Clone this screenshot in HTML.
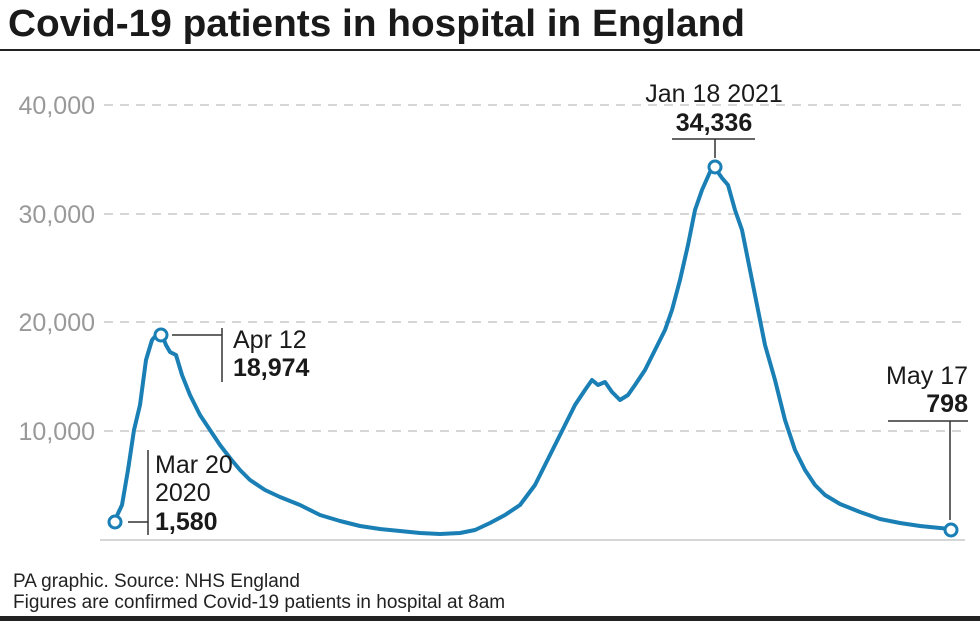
<!DOCTYPE html>
<html><head><meta charset="utf-8"><style>
html,body{margin:0;padding:0;background:#fff;}
body{width:980px;height:621px;overflow:hidden;font-family:"Liberation Sans",Arial,sans-serif;}
</style></head><body>
<svg width="980" height="621" viewBox="0 0 980 621" xmlns="http://www.w3.org/2000/svg" font-family="Liberation Sans, Arial, sans-serif">
<text x="8" y="36" font-size="38" font-weight="bold" fill="#1a1a1a" textLength="737" lengthAdjust="spacingAndGlyphs">Covid-19 patients in hospital in England</text>
<line x1="0" y1="50" x2="980" y2="50" stroke="#222" stroke-width="2"/>
<g stroke="#c8c8c8" stroke-width="1.5" stroke-dasharray="9,7">
<line x1="104" y1="105" x2="965" y2="105"/>
<line x1="104" y1="214" x2="965" y2="214"/>
<line x1="104" y1="322" x2="965" y2="322"/>
<line x1="104" y1="431" x2="965" y2="431"/>
</g>
<line x1="100" y1="540" x2="965" y2="540" stroke="#c8c8c8" stroke-width="1.5"/>
<g font-size="25" fill="#999" text-anchor="end">
<text x="95" y="114">40,000</text>
<text x="95" y="223">30,000</text>
<text x="95" y="331">20,000</text>
<text x="95" y="440">10,000</text>
</g>
<polyline fill="none" stroke="#1a7fb5" stroke-width="4" stroke-linejoin="round" points="114,522 122,505 128,470 134,430 140,405 146,360 152,340 158,333 162,335 166,345 170,352 176,355 182,375 190,395 200,415 210,430 220,445 230,458 240,470 250,480 265,490 280,497 300,505 320,515 340,521 360,526 380,529 400,531 420,533 440,534 460,533 475,530 490,523 505,515 520,505 535,485 545,465 555,445 565,425 575,405 585,390 592,380 598,385 605,382 612,392 620,400 628,395 635,385 645,370 655,350 665,330 672,310 680,280 688,245 695,210 702,190 710,172 715,168 722,178 728,185 735,210 742,230 750,270 758,310 765,345 775,380 785,420 795,450 805,470 815,485 825,495 840,504 860,512 880,519 900,523 920,526 950,529"/>
<g stroke="#333" stroke-width="1.5" fill="none">
<polyline points="128,522 148,522"/><line x1="148" y1="450" x2="148" y2="535"/>
<polyline points="172,335 222,335"/><line x1="222" y1="328" x2="222" y2="382"/>
<line x1="672" y1="139" x2="755" y2="139"/><line x1="715" y1="139" x2="715" y2="158"/>
<line x1="888" y1="421" x2="968" y2="421"/><line x1="950" y1="421" x2="950" y2="520"/>
</g>
<g fill="#fff" stroke="#1a7fb5" stroke-width="3">
<circle cx="115" cy="522" r="6"/>
<circle cx="161" cy="335" r="6"/>
<circle cx="715" cy="167" r="6"/>
<circle cx="951" cy="530" r="6"/>
</g>
<g font-size="25" fill="#1a1a1a">
<text x="155" y="473">Mar 20</text>
<text x="155" y="501">2020</text>
<text x="155" y="530" font-weight="bold">1,580</text>
<text x="233" y="348">Apr 12</text>
<text x="233" y="376" font-weight="bold">18,974</text>
<text x="714" y="102" text-anchor="middle">Jan 18 2021</text>
<text x="714" y="131" text-anchor="middle" font-weight="bold">34,336</text>
<text x="968" y="384" text-anchor="end">May 17</text>
<text x="968" y="412" text-anchor="end" font-weight="bold">798</text>
</g>
<g font-size="19" fill="#222">
<text x="13" y="587">PA graphic. Source: NHS England</text>
<text x="13" y="608">Figures are confirmed Covid-19 patients in hospital at 8am</text>
</g>
<rect x="0" y="616" width="980" height="5" fill="#222"/>
</svg>
</body></html>
